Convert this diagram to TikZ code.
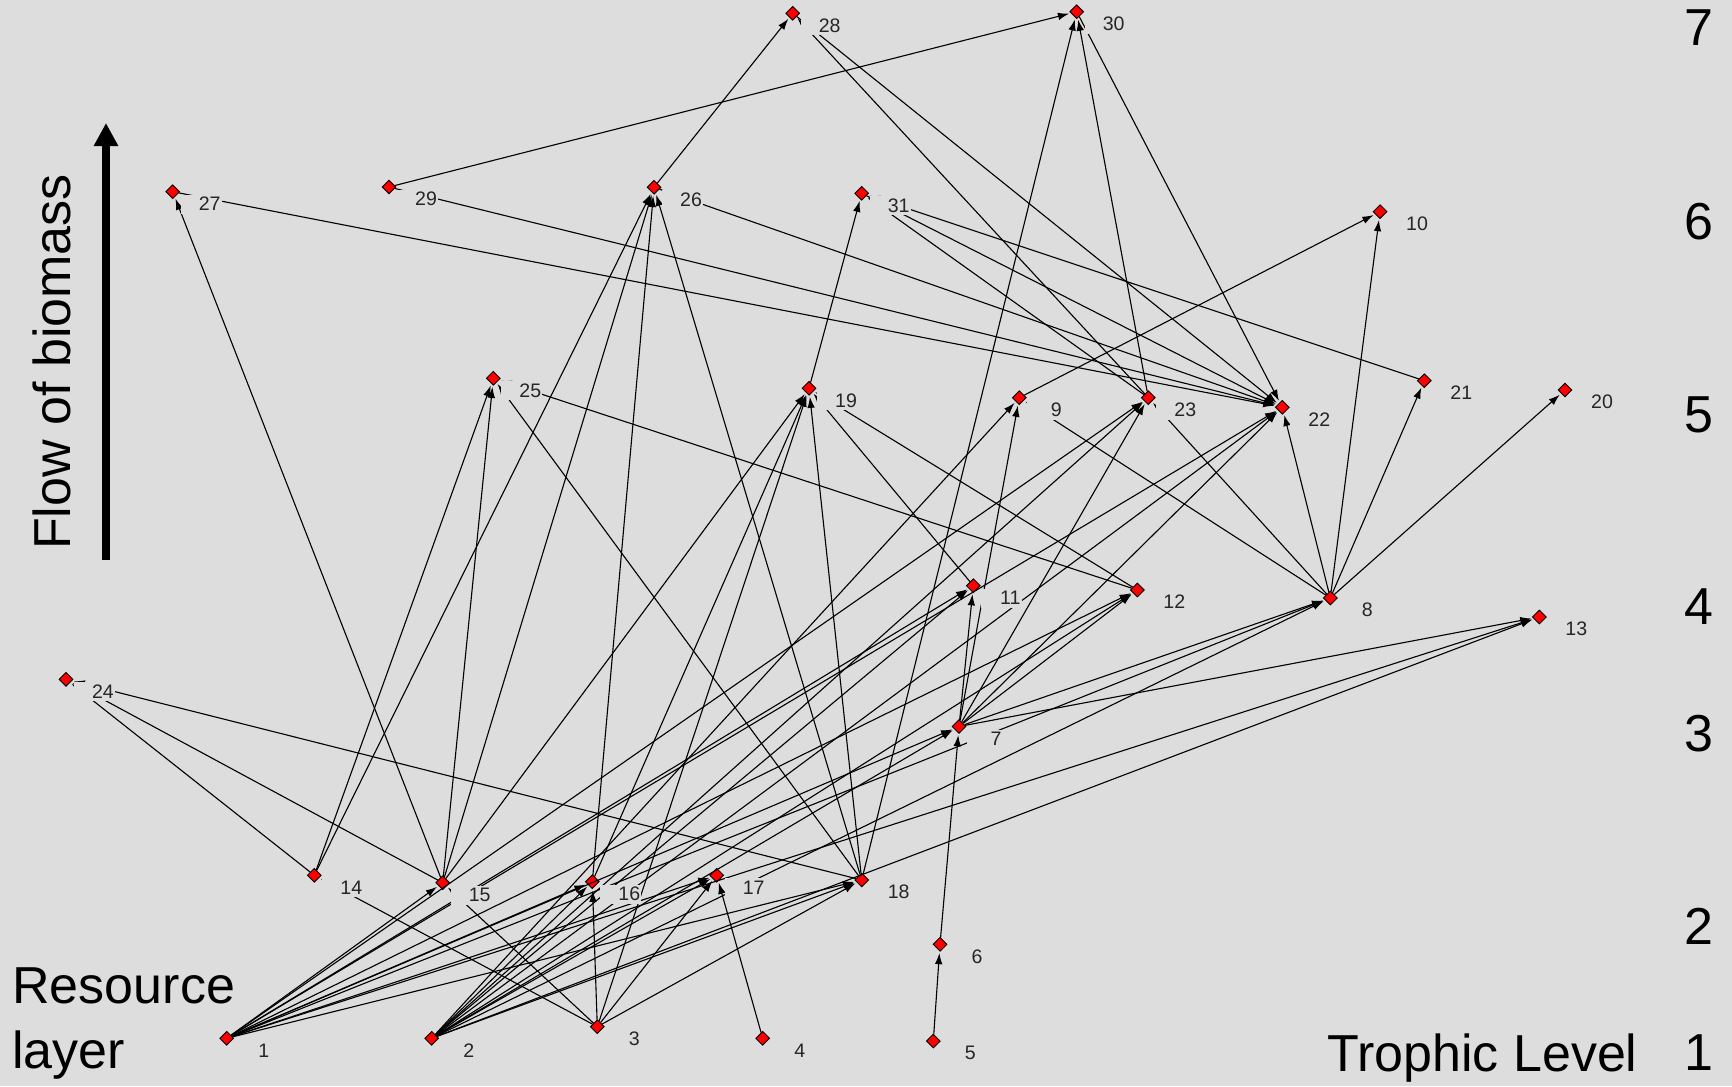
\documentclass[tikz,border=0pt]{standalone}
\usepackage{fontspec}
\setmainfont{Liberation Sans}
\usetikzlibrary{shapes.geometric,arrows.meta}
\definecolor{bg}{RGB}{221,221,221}
\begin{document}
\begin{tikzpicture}[x=0.45pt,y=-0.45pt,
 sp/.style={diamond,draw=black,fill=red,line width=0.4pt,inner sep=0pt,minimum size=6.3pt},
 lab/.style={inner sep=0pt,font=\fontsize{8.8}{10}\selectfont,text=black!85},
 edge/.style={line width=0.5pt,-{Latex[length=5pt,width=3.4pt]},shorten >=0.8pt},
 big/.style={font=\fontsize{23.4}{26}\selectfont,inner sep=0pt}]
\fill[bg] (0,0) rectangle (1732,1086);
\useasboundingbox (0,0) rectangle (1732,1086);
\foreach \i/\x/\y in {1/226.7/1038.3, 2/431.7/1038.3, 3/597.3/1026.7, 4/762.7/1038.3,
  5/933.3/1041, 6/940/944.3, 7/959/726.5, 8/1330.3/598, 9/1019.3/397.7, 10/1380/211.7,
  11/973.3/585.7, 12/1137.3/590, 13/1539.3/617, 14/314.3/875.3, 15/442.7/882.7,
  16/592.3/881.7, 17/716.7/875.3, 18/861.7/880, 19/809/388.3, 20/1565/390,
  21/1424.3/380.7, 22/1282.3/407.3, 23/1148.3/397.7, 24/66/679.3, 25/493.3/378.3,
  26/654/187.3, 27/172.7/191.7, 28/792.7/13.3, 29/389/187, 30/1076.7/11.7, 31/861.7/193.3}
  \node[sp] (n\i) at (\x,\y) {};
% source/target (arrow at target)
\foreach \a/\b in {26/28, 29/30, 18/30, 23/30, 30/22,
  14/26, 15/26, 16/26, 18/26, 26/22, 15/27, 27/22, 29/22, 28/22, 23/28,
  19/31, 21/31, 31/22, 23/31, 7/9, 9/10, 8/10,
  14/25, 15/25, 12/25, 18/25, 15/19, 16/19, 3/19, 18/19, 11/19, 12/19,
  8/9, 8/23, 8/22, 8/21, 8/20, 14/24, 15/24, 18/24,
  3/14, 3/15, 3/16, 4/17, 3/17, 3/18, 5/6, 6/7,
  7/8, 7/13, 7/11, 7/12, 7/22, 7/23,
  1/15, 1/11, 1/22, 1/12, 1/7, 1/8, 1/17, 1/13, 1/18, 1/16, 1/23,
  2/16, 2/17, 2/18, 2/7, 2/11, 2/12, 2/8, 2/13, 2/9, 2/23, 2/22}
  \draw[edge] (n\a) -- (n\b);
\foreach \i in {1,...,31}{
  \fill[bg] (n\i.center) ++(8,3) rectangle ++(41,19);
  \path (n\i.center) ++(37,12) node[lab] (l\i) {\i};}
% axis texts
\node[big,anchor=base west] (res) at (12,1003) {Resource};
\node[big,anchor=base west] (lay) at (12,1068) {layer};
\node[big,anchor=base east] (tl) at (1638,1071) {Trophic Level};
\foreach \k/\y in {7/28, 6/221.7, 5/415, 4/606.7, 3/734, 2/926, 1/1052.7}
  \node[big] (lv\k) at (1699,\y) {\k};
\node[big,rotate=90] (flow) at (52,362) {Flow of biomass};
\coordinate (fb0) at (106,560);
\coordinate (fb1) at (106,123);
\draw[line width=3.6pt,-{Triangle[length=10.4pt,width=10.4pt]}] (fb0) -- (fb1);
\end{tikzpicture}
\end{document}
